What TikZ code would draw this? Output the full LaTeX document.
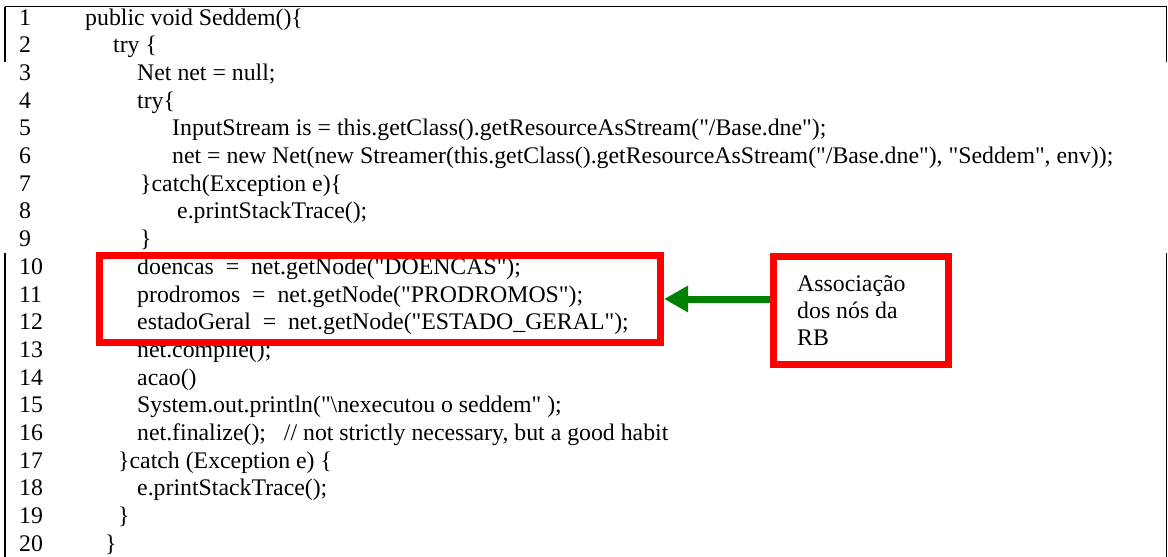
\documentclass[tikz,border=0pt]{standalone}
\usepackage{fontspec}
\setmainfont{Liberation Serif}[Ligatures=TeXOff]
\usetikzlibrary{arrows.meta}
\definecolor{markred}{RGB}{255,0,0}
\definecolor{arrowgreen}{RGB}{0,128,0}
\begin{document}
\begin{tikzpicture}[x=1pt,y=-1pt,
  codefont/.style={font=\fontsize{23.8}{27}\selectfont},
  num/.style={codefont,anchor=base west,inner sep=0pt},
  code/.style={codefont,anchor=base west,inner sep=0pt},
  redbox/.style={draw=markred,line width=7pt,inner sep=0pt},
  frameline/.style={line width=1.5pt,black},
  linkarrow/.style={draw=arrowgreen,line width=7pt,-{Triangle[length=24pt,width=25pt]}}]
\useasboundingbox (0,0) rectangle (1168,557);
% table frame
\draw[frameline] (4.5,6.5) -- (1167,6.5);
\draw[frameline] (5.2,6.5) -- (5.2,62);
\draw[frameline] (5.2,253) -- (5.2,557);
\draw[frameline] (1166.5,6.5) -- (1166.5,62);
\draw[frameline] (1166.5,253) -- (1166.5,557);
% line numbers and code, one row every 27.7pt
\foreach \i in {1,...,20}{
  \node[num] (n\i) at (19,{25+(\i-1)*27.7}) {\i};
}
\node[code] (c1) at (85,25) {public void Seddem()\{};
\node[code] (c2) at (113,52.7) {try \{};
\node[code] (c3) at (137,80.4) {Net net = null;};
\node[code] (c4) at (137,108.1) {try\{};
\node[code] (c5) at (172,135.8) {InputStream is = this.getClass().getResourceAsStream("/Base.dne");};
\node[code] (c6) at (172,163.5) {net = new Net(new Streamer(this.getClass().getResourceAsStream("/Base.dne"), "Seddem", env));};
\node[code] (c7) at (140,191.2) {\}catch(Exception e)\{};
\node[code] (c8) at (177,218.9) {e.printStackTrace();};
\node[code] (c9) at (140,246.6) {\}};
\node[code] (c10) at (137,274.3) {doencas\ \ =\ \ net.getNode("DOENCAS");};
\node[code] (c11) at (137,302) {prodromos\ \ =\ \ net.getNode("PRODROMOS");};
\node[code] (c12) at (137,329.7) {estadoGeral\ \ =\ \ net.getNode("ESTADO\_GERAL");};
\node[code] (c13) at (137,357.4) {net.compile();};
\node[code] (c14) at (137,385.1) {acao()};
\node[code] (c15) at (137,412.8) {System.out.println("\textbackslash nexecutou o seddem" );};
\node[code] (c16) at (137,440.5) {net.finalize();\ \ \ // not strictly necessary, but a good habit};
\node[code] (c17) at (118,468.2) {\}catch (Exception e) \{};
\node[code] (c18) at (137,495.9) {e.printStackTrace();};
\node[code] (c19) at (118,523.6) {\}};
\node[code] (c20) at (105,551.3) {\}};
% highlighted block and its note
\node[redbox,minimum width=561pt,minimum height=87pt] (sel) at (380,299) {};
\node[redbox,minimum width=175pt,minimum height=108pt] (note) at (861,310.5) {};
\node[anchor=base west,inner sep=0pt,align=left,font=\fontsize{23.8}{27}\selectfont] (notetext) at (797,345) {Associação\\dos nós da\\RB};
\draw[linkarrow] (sel.east -| note.west) -- (sel.east);
\end{tikzpicture}
\end{document}
